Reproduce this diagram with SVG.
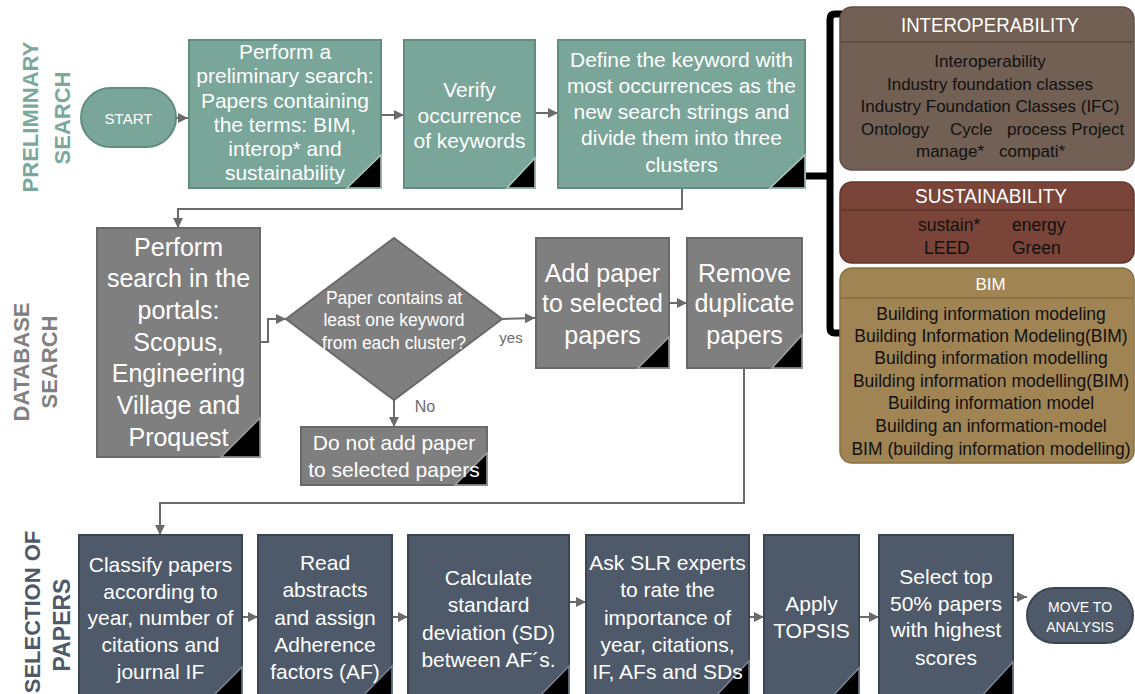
<svg xmlns="http://www.w3.org/2000/svg" width="1135" height="694" viewBox="0 0 1135 694">
  <defs>
    <marker id="arrow" markerUnits="userSpaceOnUse" markerWidth="10" markerHeight="10" refX="10" refY="5" orient="auto">
      <path d="M0,0 L10,5 L0,10 z" fill="#6b6b6b"/>
    </marker>
    <style>
      text { font-family: "Liberation Sans", Arial, sans-serif; }
      .teal { fill: #79a699; stroke: #5f8d80; stroke-width: 2; }
      .gray { fill: #7f7f7f; stroke: #696969; stroke-width: 2; }
      .slate { fill: #4e5a69; stroke: #3c4653; stroke-width: 2; }
      .fold { fill: #000; stroke-width: 1.5; }
      .fold-teal { stroke: #a9c8bf; }
      .fold-gray { stroke: #a0a0a0; }
      .fold-slate { stroke: #7a8594; }
      .wt { fill: #fff; text-anchor: middle; }
      .t21 { font-size: 21px; }
      .t25 { font-size: 25px; }
      .lane { font-weight: bold; font-size: 22px; text-anchor: middle; }
      .conn { fill: none; stroke: #6b6b6b; stroke-width: 2; }
      .body { fill: #111; font-size: 17px; }
      .hdr { fill: #fff; font-size: 20px; text-anchor: middle; }
      .divider { stroke-width: 1.5; fill: none; }
    </style>
  </defs>

  <!-- lane labels -->
  <g id="lane-preliminary" fill="#7aa99b">
    <text class="lane" transform="translate(37.5,117) rotate(-90)">PRELIMINARY</text>
    <text class="lane" transform="translate(70,118) rotate(-90)">SEARCH</text>
  </g>
  <g id="lane-database" fill="#808080">
    <text class="lane" transform="translate(28.5,362) rotate(-90)">DATABASE</text>
    <text class="lane" transform="translate(57,362) rotate(-90)">SEARCH</text>
  </g>
  <g id="lane-selection" fill="#4e5a69">
    <text class="lane" transform="translate(40,612) rotate(-90)">SELECTION OF</text>
    <text class="lane" style="font-size:23px" transform="translate(70,625) rotate(-90)">PAPERS</text>
  </g>

  <!-- connectors -->
  <g id="connectors">
    <path class="conn" d="M176,118 H188" marker-end="url(#arrow)"/>
    <path class="conn" d="M381,115 H404" marker-end="url(#arrow)"/>
    <path class="conn" d="M535,113 H558" marker-end="url(#arrow)"/>
    <path class="conn" d="M682,188 V209 H178 V228" marker-end="url(#arrow)"/>
    <path class="conn" d="M260,342 H268 V319 H286" marker-end="url(#arrow)"/>
    <path class="conn" d="M502,319 L535,318" marker-end="url(#arrow)"/>
    <path class="conn" d="M394,400 V427" marker-end="url(#arrow)"/>
    <path class="conn" d="M669,303 H687" marker-end="url(#arrow)"/>
    <path class="conn" d="M744,368 V503 H160 V535" marker-end="url(#arrow)"/>
    <path class="conn" d="M242,617 H258" marker-end="url(#arrow)"/>
    <path class="conn" d="M392,617 H408" marker-end="url(#arrow)"/>
    <path class="conn" d="M569,602 H586" marker-end="url(#arrow)"/>
    <path class="conn" d="M749,617 H764" marker-end="url(#arrow)"/>
    <path class="conn" d="M859,617 H879" marker-end="url(#arrow)"/>
    <path class="conn" d="M1013,597 H1027" marker-end="url(#arrow)"/>
    <text x="511" y="343" fill="#6b6b6b" font-size="15" text-anchor="middle">yes</text>
    <text x="425" y="412" fill="#6b6b6b" font-size="16" text-anchor="middle">No</text>
    <!-- cluster bracket -->
    <path d="M846,14 H835 Q830,14 830,19 V328 Q830,333 835,333 H848" fill="none" stroke="#000" stroke-width="7"/>
    <path d="M800,176 H830" fill="none" stroke="#000" stroke-width="7"/>
  </g>

  <!-- preliminary search row -->
  <g id="start">
    <rect class="teal" x="81" y="88" width="95" height="59" rx="29.5"/>
    <text class="wt" x="128.5" y="123.5" font-size="15">START</text>
  </g>
  <g id="prelim-search">
    <rect class="teal" x="189" y="40" width="192" height="148"/>
    <polygon class="fold fold-teal" points="347,188 381,188 381,155"/>
    <text class="wt t21" x="285" y="59">Perform a</text>
    <text class="wt t21" x="285" y="83">preliminary search:</text>
    <text class="wt t21" x="285" y="108">Papers containing</text>
    <text class="wt t21" x="285" y="132">the terms: BIM,</text>
    <text class="wt t21" x="285" y="156">interop* and</text>
    <text class="wt t21" x="285" y="180">sustainability</text>
  </g>
  <g id="verify-occurrence">
    <rect class="teal" x="404" y="40" width="131" height="148"/>
    <polygon class="fold fold-teal" points="507,188 535,188 535,158"/>
    <text class="wt t21" x="469.5" y="97">Verify</text>
    <text class="wt t21" x="469.5" y="122.5">occurrence</text>
    <text class="wt t21" x="469.5" y="148">of keywords</text>
  </g>
  <g id="define-keywords">
    <rect class="teal" x="558" y="40" width="247" height="148"/>
    <polygon class="fold fold-teal" points="770,188 805,188 805,155"/>
    <text class="wt t21" x="681.5" y="67">Define the keyword with</text>
    <text class="wt t21" x="681.5" y="93">most occurrences as the</text>
    <text class="wt t21" x="681.5" y="119">new search strings and</text>
    <text class="wt t21" x="681.5" y="145">divide them into three</text>
    <text class="wt t21" x="681.5" y="172">clusters</text>
  </g>

  <!-- keyword clusters -->
  <g id="cluster-interoperability">
    <rect x="840" y="7" width="294" height="163" rx="12" fill="#726054" stroke="#5f4f44" stroke-width="1.5"/>
    <line class="divider" x1="841" y1="42" x2="1133" y2="42" stroke="#5a4a40"/>
    <text class="hdr" x="990" y="32" textLength="178" lengthAdjust="spacingAndGlyphs">INTEROPERABILITY</text>
    <text class="body" x="990" y="67" text-anchor="middle">Interoperability</text>
    <text class="body" x="990" y="89.5" text-anchor="middle">Industry foundation classes</text>
    <text class="body" x="990" y="112" text-anchor="middle">Industry Foundation Classes (IFC)</text>
    <text class="body" x="861" y="134.5">Ontology</text>
    <text class="body" x="950" y="134.5">Cycle</text>
    <text class="body" x="1007" y="134.5">process Project</text>
    <text class="body" x="916" y="157">manage*</text>
    <text class="body" x="999" y="157">compati*</text>
  </g>
  <g id="cluster-sustainability">
    <rect x="840" y="182" width="294" height="81" rx="12" fill="#7a4439" stroke="#62342b" stroke-width="1.5"/>
    <line class="divider" x1="841" y1="210" x2="1133" y2="210" stroke="#62342b"/>
    <text class="hdr" x="991" y="203" textLength="152" lengthAdjust="spacingAndGlyphs">SUSTAINABILITY</text>
    <text class="body" style="font-size:17.5px" x="918" y="231">sustain*</text>
    <text class="body" style="font-size:17.5px" x="1012" y="231">energy</text>
    <text class="body" style="font-size:17.5px" x="924" y="254">LEED</text>
    <text class="body" style="font-size:17.5px" x="1012" y="254">Green</text>
  </g>
  <g id="cluster-bim">
    <rect x="840" y="268" width="294" height="195" rx="12" fill="#a08454" stroke="#87703f" stroke-width="1.5"/>
    <line class="divider" x1="841" y1="298" x2="1133" y2="298" stroke="#87703f"/>
    <text class="hdr" x="990.5" y="289.5" style="font-size:17px">BIM</text>
    <g class="body" style="font-size:17.5px" text-anchor="middle">
      <text x="991" y="320">Building information modeling</text>
      <text x="991" y="342">Building Information Modeling(BIM)</text>
      <text x="991" y="364">Building information modelling</text>
      <text x="991" y="387">Building information modelling(BIM)</text>
      <text x="991" y="409">Building information model</text>
      <text x="991" y="432">Building an information-model</text>
      <text x="991" y="455">BIM (building information modelling)</text>
    </g>
  </g>

  <!-- database search row -->
  <g id="portal-search">
    <rect class="gray" x="97" y="228" width="163" height="229"/>
    <polygon class="fold fold-gray" points="221,457 260,457 260,418"/>
    <text class="wt t25" x="178.5" y="255.5">Perform</text>
    <text class="wt t25" x="178.5" y="287">search in the</text>
    <text class="wt t25" x="178.5" y="318.5">portals:</text>
    <text class="wt t25" x="178.5" y="350.5">Scopus,</text>
    <text class="wt t25" x="178.5" y="382">Engineering</text>
    <text class="wt t25" x="178.5" y="413.5">Village and</text>
    <text class="wt t25" x="178.5" y="445.5">Proquest</text>
  </g>
  <g id="keyword-check">
    <polygon class="gray" points="286,319 394,238 502,319 394,400"/>
    <text class="wt" font-size="17.5" x="394" y="304">Paper contains at</text>
    <text class="wt" font-size="17.5" x="394" y="326">least one keyword</text>
    <text class="wt" font-size="17.5" x="394" y="349">from each cluster?</text>
  </g>
  <g id="reject-paper">
    <rect class="gray" x="301" y="427" width="186" height="58"/>
    <polygon class="fold fold-gray" points="455,485 487,485 487,453"/>
    <text class="wt t21" x="394" y="450">Do not add paper</text>
    <text class="wt t21" x="394" y="477">to selected papers</text>
  </g>
  <g id="add-paper">
    <rect class="gray" x="536" y="238" width="133" height="130"/>
    <polygon class="fold fold-gray" points="638,368 669,368 669,337"/>
    <text class="wt t25" x="602.5" y="281.5">Add paper</text>
    <text class="wt t25" x="602.5" y="311.5">to selected</text>
    <text class="wt t25" x="602.5" y="343.5">papers</text>
  </g>
  <g id="remove-duplicates">
    <rect class="gray" x="687" y="238" width="115" height="130"/>
    <polygon class="fold fold-gray" points="772,368 802,368 802,335"/>
    <text class="wt t25" x="744.5" y="281.5">Remove</text>
    <text class="wt t25" x="744.5" y="311.5">duplicate</text>
    <text class="wt t25" x="744.5" y="343.5">papers</text>
  </g>

  <!-- selection of papers row -->
  <g id="classify-papers">
    <rect class="slate" x="79" y="535" width="163" height="165"/>
    <polygon class="fold fold-slate" points="209,700 242,700 242,667"/>
    <text class="wt t21" x="160.5" y="572">Classify papers</text>
    <text class="wt t21" x="160.5" y="599">according to</text>
    <text class="wt t21" x="160.5" y="625">year, number of</text>
    <text class="wt t21" x="160.5" y="652">citations and</text>
    <text class="wt t21" x="160.5" y="679">journal IF</text>
  </g>
  <g id="assign-adherence">
    <rect class="slate" x="258" y="535" width="134" height="165"/>
    <polygon class="fold fold-slate" points="359,700 392,700 392,666"/>
    <text class="wt t21" x="325" y="570">Read</text>
    <text class="wt t21" x="325" y="597">abstracts</text>
    <text class="wt t21" x="325" y="625">and assign</text>
    <text class="wt t21" x="325" y="652">Adherence</text>
    <text class="wt t21" x="325" y="679">factors (AF)</text>
  </g>
  <g id="standard-deviation">
    <rect class="slate" x="408" y="535" width="161" height="165"/>
    <polygon class="fold fold-slate" points="536,700 569,700 569,666"/>
    <text class="wt t21" x="488.5" y="585">Calculate</text>
    <text class="wt t21" x="488.5" y="612">standard</text>
    <text class="wt t21" x="488.5" y="640">deviation (SD)</text>
    <text class="wt t21" x="488.5" y="667">between AF´s.</text>
  </g>
  <g id="expert-rating">
    <rect class="slate" x="586" y="535" width="163" height="165"/>
    <polygon class="fold fold-slate" points="712,700 749,700 749,661"/>
    <text class="wt t21" x="667.5" y="570">Ask SLR experts</text>
    <text class="wt t21" x="667.5" y="597">to rate the</text>
    <text class="wt t21" x="667.5" y="625">importance of</text>
    <text class="wt t21" x="667.5" y="652">year, citations,</text>
    <text class="wt t21" x="667.5" y="679">IF, AFs and SDs</text>
  </g>
  <g id="apply-topsis">
    <rect class="slate" x="764" y="535" width="95" height="165"/>
    <polygon class="fold fold-slate" points="829,700 859,700 859,668"/>
    <text class="wt t21" x="811.5" y="611">Apply</text>
    <text class="wt t21" x="811.5" y="638">TOPSIS</text>
  </g>
  <g id="select-top">
    <rect class="slate" x="879" y="535" width="134" height="165"/>
    <polygon class="fold fold-slate" points="978,700 1013,700 1013,662"/>
    <text class="wt t21" x="946" y="584">Select top</text>
    <text class="wt t21" x="946" y="611">50% papers</text>
    <text class="wt t21" x="946" y="637">with highest</text>
    <text class="wt t21" x="946" y="665">scores</text>
  </g>
  <g id="move-to-analysis">
    <rect class="slate" x="1027" y="588" width="106" height="55" rx="27.5"/>
    <text class="wt" font-size="14" x="1080" y="612">MOVE TO</text>
    <text class="wt" font-size="14" x="1080" y="632">ANALYSIS</text>
  </g>
</svg>
